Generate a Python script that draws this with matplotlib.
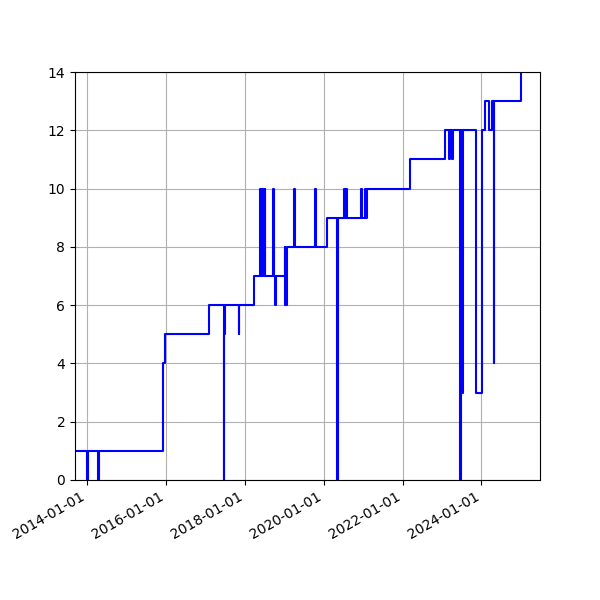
import matplotlib
matplotlib.use("Agg")
import matplotlib.pyplot as plt
import matplotlib.dates as mdates
import pandas as pd

dates = ["2013-09-15","2013-12-30","2014-01-06","2014-04-15","2014-04-22",
         "2015-12-01","2015-12-20","2017-02-01","2017-06-20","2017-06-24","2017-07-02","2017-07-08",
         "2017-11-05","2017-11-10","2018-03-25",
         "2018-05-25","2018-05-29","2018-06-05","2018-06-09","2018-06-20","2018-06-24","2018-07-05","2018-07-10",
         "2018-09-20","2018-09-24","2018-10-10","2018-10-16","2019-01-05","2019-01-09","2019-01-25","2019-01-30","2019-02-10",
         "2019-04-05","2019-04-09","2019-10-15","2019-10-19","2020-02-05",
         "2020-05-05","2020-05-10","2020-07-10","2020-07-20","2020-07-28","2020-08-02",
         "2020-12-15","2020-12-19","2021-01-20","2021-02-01","2021-02-06","2022-03-10",
         "2023-02-01","2023-03-05","2023-03-20","2023-04-05","2023-04-10",
         "2023-06-20","2023-06-25","2023-06-30","2023-07-03","2023-07-08","2023-07-15",
         "2023-11-10","2024-01-10","2024-02-05","2024-03-10","2024-04-05","2024-04-25","2024-05-02","2025-01-03"]
values = [1,0,1,0,1,
          4,5,6,0,5,6,6,
          5,6,7,
          10,7,10,7,10,7,10,7,
          10,7,6,7,8,6,8,8,8,
          10,8,10,8,9,
          0,9,10,9,10,9,
          10,9,10,9,10,11,
          12,11,12,11,12,
          0,12,3,12,3,12,
          3,12,13,12,13,4,13,14]

s = pd.Series(values, index=pd.to_datetime(dates))
fig, ax = plt.subplots(figsize=(6, 6), dpi=100)
fig.subplots_adjust(left=0.125, right=0.9, top=0.88, bottom=0.2)
ax.plot(s.index, s.values, drawstyle="steps-post", color="blue")
ax.set_ylim(0, 14)
ax.set_xlim(pd.Timestamp("2013-09-10"), pd.Timestamp("2025-06-28"))
ax.xaxis.set_major_locator(mdates.YearLocator(2))
ax.xaxis.set_major_formatter(mdates.DateFormatter("%Y-%m-%d"))
ax.grid(True)
fig.autofmt_xdate()
fig.savefig("out.png")
